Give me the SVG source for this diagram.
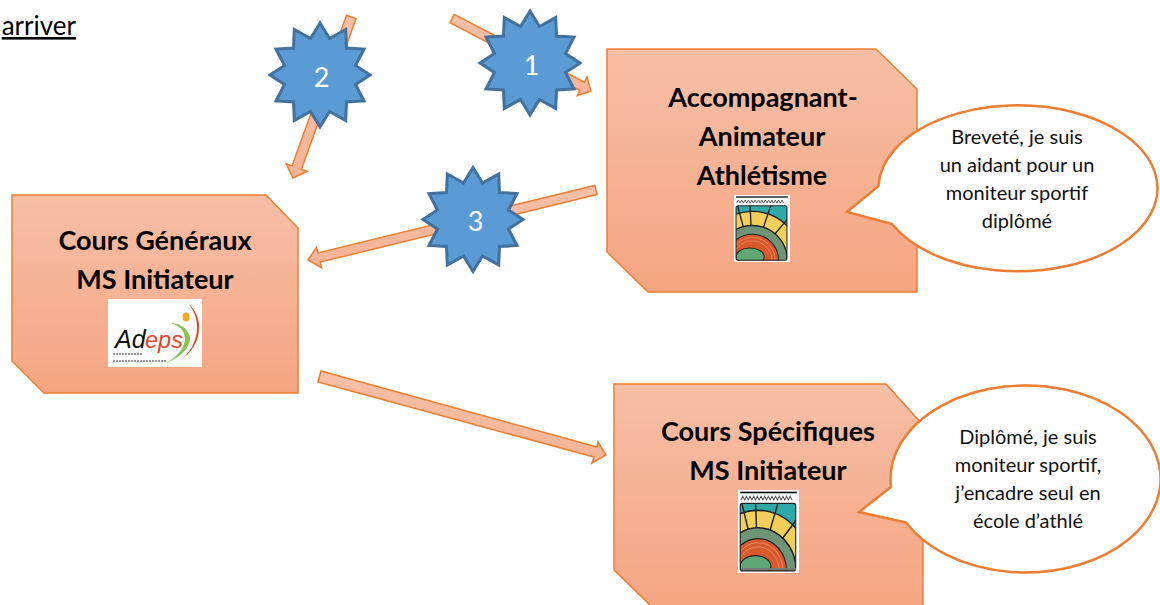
<svg xmlns="http://www.w3.org/2000/svg" width="1160" height="605" viewBox="0 0 1160 605">
<style>
text{font-family:"Lato","Liberation Sans",sans-serif;text-anchor:middle}
.title{font-size:27px;font-weight:700;fill:#000}
.note{font-size:20px;fill:#111}
.num{font-size:27px;fill:#fff}
.box{fill:url(#peach);stroke:#ED7D31;stroke-width:1.5}
.arrow{fill:url(#peachArrow);stroke:#ED7D31;stroke-width:1.5;stroke-linejoin:miter}
.star{fill:#5B9BD5;stroke:#41719C;stroke-width:3;stroke-linejoin:miter}
.call{fill:#fff;stroke:#ED7D31;stroke-width:2.5;stroke-linejoin:miter}
.logoA{font-family:"Liberation Sans",sans-serif;font-style:italic;text-anchor:start}
</style>
<defs>
<linearGradient id="peach" x1="0" y1="0" x2="0" y2="1"><stop offset="0" stop-color="#F7BFA6"/><stop offset="1" stop-color="#F5A582"/></linearGradient>
<linearGradient id="peachArrow" x1="0" y1="0" x2="0" y2="1"><stop offset="0" stop-color="#F7C0A7"/><stop offset="1" stop-color="#F6B497"/></linearGradient>
<polygon id="burst" class="star" points="0,-52 9.5,-36.5 25.7,-45.5 26.5,-27 44,-26 35.5,-9.5 50,0 35.5,9.5 44,26 26.5,27 25.7,45.5 9.5,36.5 0,52 -9.5,36.5 -25.7,45.5 -26.5,27 -44,26 -35.5,9.5 -50,0 -35.5,-9.5 -44,-26 -26.5,-27 -25.7,-45.5 -9.5,-36.5"/>
<clipPath id="logoClip"><rect x="6" y="32" width="152" height="163" rx="6"/></clipPath>
<symbol id="track" viewBox="0 0 167 200" preserveAspectRatio="none">
<rect width="167" height="200" fill="#fff"/>
<rect x="6" y="4" width="155" height="4" fill="#111"/>
<path d="M8 24l5-9 5 9 5-9 5 9 5-9 5 9 5-9 5 9 5-9 5 9 5-9 5 9 5-9 5 9 5-9 5 9 5-9 5 9 5-9 5 9 5-9 5 9 5-9 5 9 5-9 5 9 5-9 5 9" fill="none" stroke="#444" stroke-width="2.5"/>
<g clip-path="url(#logoClip)">
<rect x="6" y="32" width="152" height="163" fill="#2FA9A8"/>
<circle cx="55" cy="195" r="146" fill="#F2CF5B" stroke="#222" stroke-width="4"/>
<path d="M55 195L10 30M55 195L48 30M55 195L110 30M55 195L170 60" stroke="#222" stroke-width="4"/>
<circle cx="55" cy="195" r="104" fill="#6F9578" stroke="#222" stroke-width="4"/>
<circle cx="55" cy="195" r="78" fill="#D9592C" stroke="#222" stroke-width="3"/>
<circle cx="55" cy="195" r="68" fill="none" stroke="#F0A78A" stroke-width="1.5"/>
<circle cx="55" cy="195" r="58" fill="none" stroke="#F0A78A" stroke-width="1.5"/>
<ellipse cx="48" cy="184" rx="42" ry="26" fill="#5FA773" stroke="#222" stroke-width="3"/>
</g>
<rect x="6" y="32" width="152" height="163" rx="6" fill="none" stroke="#222" stroke-width="3"/>
</symbol>
</defs>
<rect width="1160" height="605" fill="#fff"/>

<text id="heading" x="76" y="35" font-size="26" fill="#000" text-decoration="underline" style="text-anchor:end">arriver</text>

<g id="connectors">
<polygon class="arrow" points="356,18.7 301.4,169.3 307.1,171.3 293,178 286.3,163.9 292,165.9 346.6,15.3"/>
<polygon class="arrow" points="454.2,14.3 584.3,82.2 587,77.1 591,91 577.3,95.7 579.9,90.6 450,22.7"/>
<polygon class="arrow" points="597.1,194.6 320.1,262.1 321.5,267.7 308,260 316.5,247.3 317.9,252.9 594.9,185.4"/>
<polygon class="arrow" points="321,371 597,447 598,442 606,455 592,463 594,457 318,382"/>
</g>

<g id="node-cours-generaux">
<polygon class="box" points="12,195 266,195 298,228 298,393 44,393 12,361"/>
<text class="title" x="155" y="250">Cours Généraux</text>
<text class="title" x="155" y="289">MS Initiateur</text>
<g id="logo-adeps">
<rect x="108" y="299" width="94" height="68" fill="#fff"/>
<path d="M188 303Q204 318 197 340Q192 352 183 358Q197 345 197 327Q197 314 188 303Z" fill="#E3452B"/>
<path d="M171 323Q186 324 190 337Q191 352 165 364Q185 352 185 338Q184 327 171 323Z" fill="#8CC152"/>
<ellipse cx="186" cy="317" rx="3.5" ry="4.5" fill="#F5A623"/>
<text class="logoA" x="115" y="348" font-size="25" fill="#111">Ad</text>
<text class="logoA" x="145" y="348" font-size="23.5" fill="#E3452B">eps</text>
<path d="M113 354H143M113 361H166" stroke="#777" stroke-width="1.6" stroke-dasharray="2 1"/>
</g>
</g>

<g id="node-accompagnant">
<polygon class="box" points="607,49 876,49 917,89 917,292 648,292 607,252"/>
<text class="title" x="763" y="107">Accompagnant-</text>
<text class="title" x="762" y="146">Animateur</text>
<text class="title" x="762" y="185">Athlétisme</text>
<use href="#track" x="734" y="195" width="56" height="67"/>
</g>

<g id="callout-brevete">
<path class="call" d="M892 224L847 212L878.5 186A139.5 83 0 1 1 892 224Z"/>
<text class="note" x="1017" y="144">Breveté, je suis</text>
<text class="note" x="1017" y="172">un aidant pour un</text>
<text class="note" x="1017" y="200">moniteur sportif</text>
<text class="note" x="1017" y="228">diplômé</text>
</g>

<g id="star-1"><use href="#burst" x="530" y="63"/><text class="num" x="531.5" y="75">1</text></g>
<g id="star-2"><use href="#burst" x="320" y="75"/><text class="num" x="321.5" y="87">2</text></g>
<g id="star-3"><use href="#burst" x="473" y="219.5"/><text class="num" x="475.5" y="231">3</text></g>

<g id="node-cours-specifiques">
<polygon class="box" points="614,384 886,384 923,425 923,607 652,607 614,570"/>
<text class="title" x="768" y="441">Cours Spécifiques</text>
<text class="title" x="768" y="480">MS Initiateur</text>
<use href="#track" x="738" y="490" width="61" height="83"/>
<rect x="741" y="568" width="55" height="2" fill="#777"/>
</g>

<g id="callout-diplome">
<path class="call" d="M906 522.5L859 512L891 487A135 93.5 0 1 1 906 522.5Z"/>
<text class="note" x="1028" y="444">Diplômé, je suis</text>
<text class="note" x="1028" y="472">moniteur sportif,</text>
<text class="note" x="1028" y="500">j’encadre seul en</text>
<text class="note" x="1028" y="528">école d’athlé</text>
</g>
</svg>
